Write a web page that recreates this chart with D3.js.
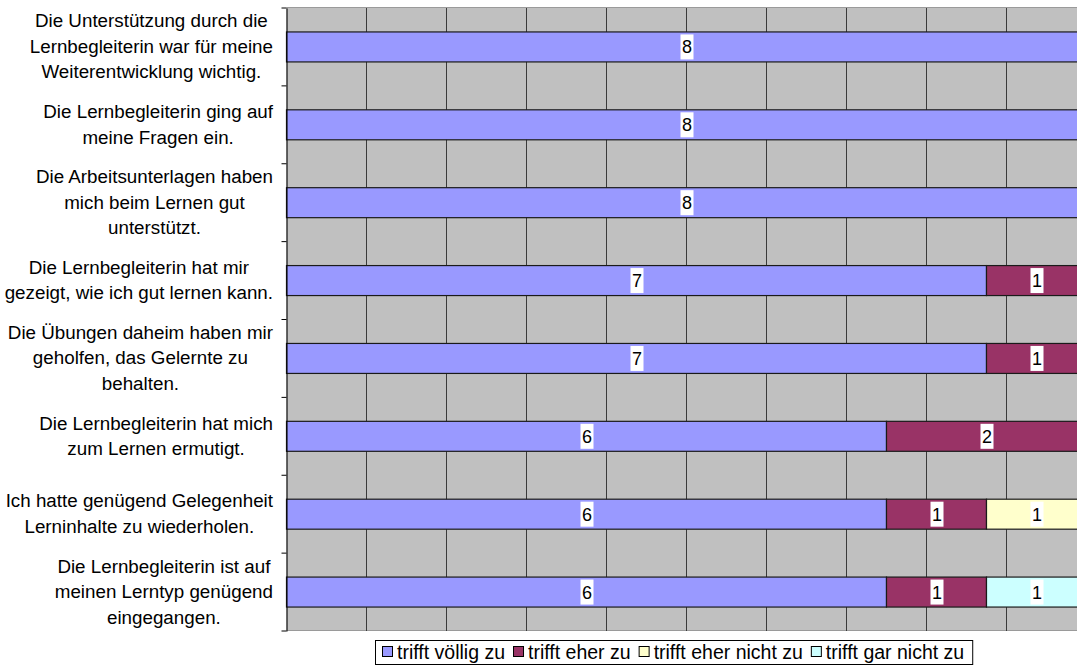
<!DOCTYPE html>
<html>
<head>
<meta charset="utf-8">
<script src="https://cdn.jsdelivr.net/npm/d3@7"></script>
<style>
  body { margin: 0; background: #fff; }
  svg { display: block; font-family: "Liberation Sans", Arial, sans-serif; }
</style>
</head>
<body>
<svg id="chart" width="1077" height="666"></svg>
<script>
const categories = [
  'Die Unterstützung durch die\nLernbegleiterin war für meine\nWeiterentwicklung wichtig.',
  'Die Lernbegleiterin ging auf\nmeine Fragen ein.',
  'Die Arbeitsunterlagen haben\nmich beim Lernen gut\nunterstützt.',
  'Die Lernbegleiterin hat mir\ngezeigt, wie ich gut lernen kann.',
  'Die Übungen daheim haben mir\ngeholfen, das Gelernte zu\nbehalten.',
  'Die Lernbegleiterin hat mich\nzum Lernen ermutigt.',
  'Ich hatte genügend Gelegenheit\nLerninhalte zu wiederholen.',
  'Die Lernbegleiterin ist auf\nmeinen Lerntyp genügend\neingegangen.'
]
const seriesNames = ['trifft völlig zu', 'trifft eher zu', 'trifft eher nicht zu', 'trifft gar nicht zu']
const trifftVoellig = [8, 8, 8, 7, 7, 6, 6, 6]
const trifftEher = [0, 0, 0, 1, 1, 2, 1, 1]
const trifftEherNicht = [0, 0, 0, 0, 0, 0, 1, 0]
const trifftGarNicht = [0, 0, 0, 0, 0, 0, 0, 1]
const totalRespondents = 8

const colors = ['#9999ff', '#993366', '#ffffcc', '#ccffff']

const svg = d3.select('#chart')
const plot = { left: 287, right: 1087, top: 8, bottom: 631 }

const rows = categories.map((c, i) => ({
  label: c,
  values: [trifftVoellig[i], trifftEher[i], trifftEherNicht[i], trifftGarNicht[i]]
}))

const xScale = d3.scaleLinear()
  .domain([0, totalRespondents])
  .range([plot.left, plot.right])

const yScale = d3.scaleBand()
  .domain(d3.range(categories.length))
  .range([plot.top, plot.bottom])

const barH = yScale.bandwidth() * 0.385

// plot background
svg.append('rect')
  .attr('x', plot.left).attr('y', plot.top - 0.5)
  .attr('width', plot.right - plot.left).attr('height', plot.bottom - plot.top)
  .attr('fill', '#c0c0c0')
  .attr('stroke', '#9a9a9a')

// vertical gridlines, every 10 %
const gridTicks = d3.range(1, 10).map(k => totalRespondents * k / 10)
svg.append('g')
  .selectAll('line')
  .data(gridTicks)
  .join('line')
  .attr('x1', d => Math.round(xScale(d)) - 0.5)
  .attr('x2', d => Math.round(xScale(d)) - 0.5)
  .attr('y1', plot.top)
  .attr('y2', plot.bottom)
  .style('stroke', '#3a3a3a')

// stacked bars
const stack = d3.stack()
  .keys(d3.range(seriesNames.length))
  .value((d, k) => d.values[k])
const stacked = stack(rows)

const barGroups = svg.append('g')
  .selectAll('g')
  .data(stacked)
  .join('g')
  .attr('fill', (d, k) => colors[k])

barGroups.selectAll('rect')
  .data(d => d.map((s, i) => ({ s, i })).filter(o => o.s[1] > o.s[0]))
  .join('rect')
  .attr('x', o => xScale(o.s[0]) - 0.5)
  .attr('width', o => xScale(o.s[1]) - xScale(o.s[0]))
  .attr('y', o => yScale(o.i) + yScale.bandwidth() / 2 - barH / 2)
  .attr('height', barH)
  .style('stroke', '#1a1a1a')
  .style('stroke-width', 1.2)

// value labels with white boxes
const labelData = []
stacked.forEach((layer, k) => {
  layer.forEach((s, i) => {
    const v = s[1] - s[0]
    if (v > 0) labelData.push({ v, x: xScale((s[0] + s[1]) / 2), y: yScale(i) + yScale.bandwidth() / 2 })
  })
})
const labels = svg.append('g')
  .selectAll('g')
  .data(labelData)
  .join('g')
  .attr('transform', d => `translate(${d.x},${d.y})`)
labels.append('rect')
  .attr('x', -6.5).attr('y', -12.5)
  .attr('width', 13).attr('height', 25)
  .attr('fill', '#fff')
labels.append('text')
  .attr('text-anchor', 'middle')
  .attr('dy', 6.5)
  .style('font-size', '18px')
  .style('fill', '#000')
  .text(d => d.v)

// left axis
const yAxis = d3.axisLeft(yScale).tickSize(0).tickFormat('')
function customYAxis (g) {
  g.call(yAxis)
  g.select('.domain').style('stroke', '#000')
  g.selectAll('.tick').remove()
  g.selectAll('.bound')
    .data(d3.range(categories.length + 1))
    .join('line')
    .attr('class', 'bound')
    .attr('x1', -5).attr('x2', 0)
    .attr('y1', i => plot.top + i * yScale.step())
    .attr('y2', i => plot.top + i * yScale.step())
    .style('stroke', '#000')
}
svg.append('g')
  .attr('transform', `translate(${plot.left - 0.5},0)`)
  .call(customYAxis)

// category labels, wrapped like the original, centered in a right-aligned block
const lineH = 25.5
const catG = svg.append('g')
rows.forEach((r, i) => {
  const lines = r.label.split('\n')
  const cy = yScale(i) + yScale.bandwidth() / 2
  const texts = lines.map((ln, j) => catG.append('text')
    .attr('y', cy + (j - (lines.length - 1) / 2) * lineH + 6)
    .attr('text-anchor', 'middle')
    .style('font-size', '18.8px')
    .style('fill', '#000')
    .text(ln))
  const blockW = d3.max(texts, t => t.node().getComputedTextLength())
  texts.forEach(t => t.attr('x', 273 - blockW / 2))
})

// legend
const legend = svg.append('g')
const legendY = 652
let lx = 382
seriesNames.forEach((name, k) => {
  legend.append('rect')
    .attr('x', lx + 0.5).attr('y', legendY - 5.5)
    .attr('width', 10).attr('height', 10)
    .attr('fill', colors[k])
    .style('stroke', '#000')
  const t = legend.append('text')
    .attr('x', lx + 15)
    .attr('y', legendY + 6.5)
    .style('font-size', '19.5px')
    .text(name)
  lx += 15 + t.node().getComputedTextLength() + 8
})
legend.insert('rect', ':first-child')
  .attr('x', 375.5).attr('y', 640.5)
  .attr('width', lx - 375).attr('height', 24)
  .attr('fill', '#fff')
  .style('stroke', '#000')
</script>
</body>
</html>
